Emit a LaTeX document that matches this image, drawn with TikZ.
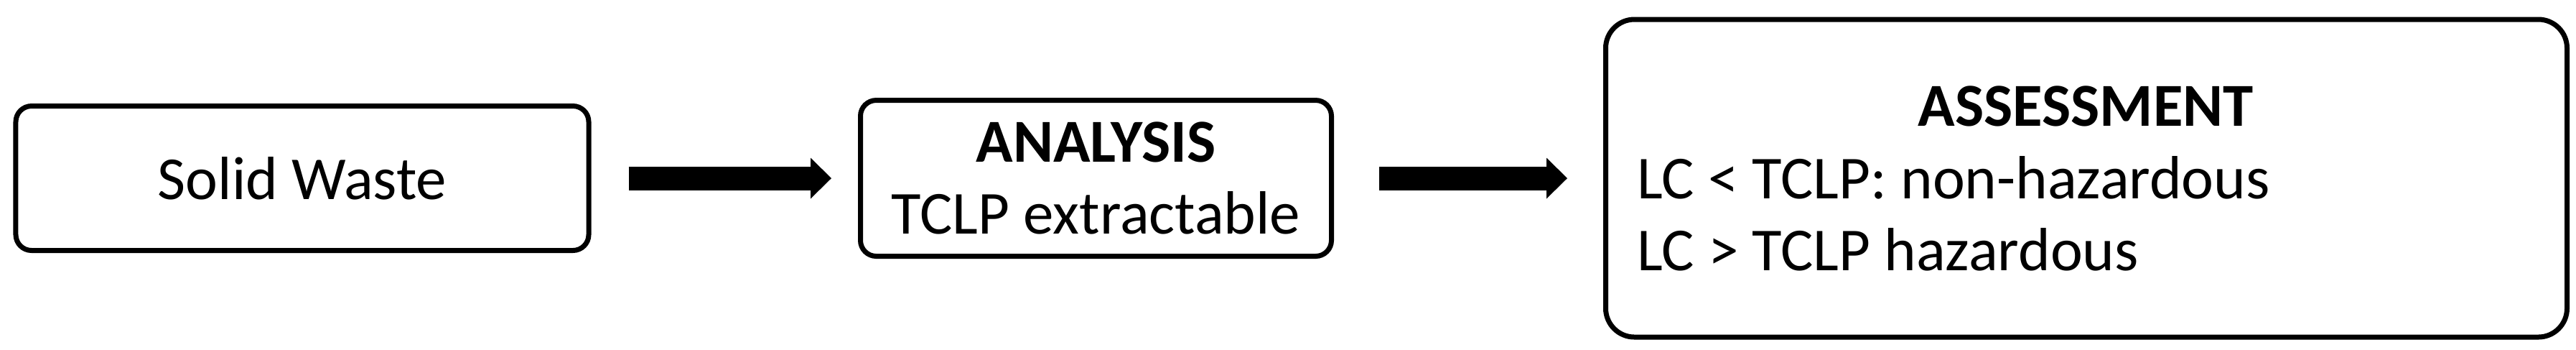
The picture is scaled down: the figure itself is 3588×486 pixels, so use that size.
\documentclass[tikz,border=0pt]{standalone}
\usepackage{fontspec}
\setmainfont{Carlito}
\usetikzlibrary{arrows.meta}
\begin{document}
\begin{tikzpicture}[x=0.2pt,y=-0.2pt,
  txtfont/.style={font=\fontsize{17pt}{20pt}\selectfont},
  box/.style={draw, line width=1.4pt, rounded corners=4.4pt, inner sep=0pt, align=center, txtfont},
  bigarrow/.style={line width=6.6pt, -{Triangle[length=5.8pt,width=11.4pt,line width=0pt]}},
  label/.style={inner sep=0pt, txtfont}]
\useasboundingbox (0,0) rectangle (3588,486);
\node[box, minimum width=159.6pt, minimum height=40.2pt] (a) at (421,248) {Solid Waste};
\node[box, minimum width=131.2pt, minimum height=43.4pt] (b) at (1526.5,248) {\textbf{ANALYSIS}\\TCLP extractable};
\node[box, rounded corners=8pt, minimum width=267.8pt, minimum height=88.4pt] (c) at (2906,248) {};
\node[label, anchor=base] (c1) at (2905,175) {\textbf{ASSESSMENT}};
\node[label, anchor=base west] (c2) at (2279,276) {LC < TCLP: non-hazardous};
\node[label, anchor=base west] (c3) at (2279,376) {LC > TCLP hazardous};
\draw[bigarrow] ([xshift=10.4pt]a.east) -- ([xshift=-7.4pt]b.west);
\draw[bigarrow] ([xshift=12.6pt]b.east) -- ([xshift=-10pt]c.west);
\end{tikzpicture}
\end{document}
